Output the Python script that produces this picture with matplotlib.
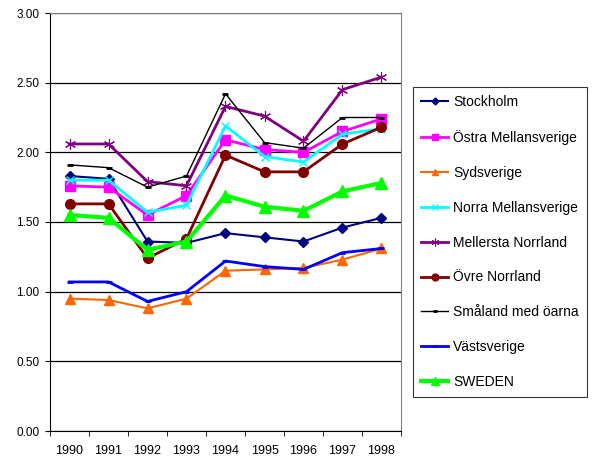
import matplotlib.pyplot as plt
import numpy as np

plt.rcParams['font.family'] = ['Liberation Sans', 'DejaVu Sans']

years = ['1990', '1991', '1992', '1993', '1994', '1995', '1996', '1997', '1998']

stockholm = [1.83, 1.81, 1.36, 1.35, 1.42, 1.39, 1.36, 1.46, 1.53]
ostra = [1.76, 1.75, 1.55, 1.69, 2.09, 2.02, 2.00, 2.15, 2.24]
sydsverige = [0.95, 0.94, 0.88, 0.95, 1.15, 1.16, 1.17, 1.23, 1.31]
norra = [1.80, 1.80, 1.57, 1.62, 2.19, 1.97, 1.93, 2.13, 2.17]
mellersta = [2.06, 2.06, 1.79, 1.76, 2.33, 2.26, 2.08, 2.45, 2.54]
ovre = [1.63, 1.63, 1.24, 1.38, 1.98, 1.86, 1.86, 2.06, 2.18]
smaland = [1.91, 1.89, 1.75, 1.83, 2.42, 2.07, 2.03, 2.25, 2.25]
vastsverige = [1.07, 1.07, 0.93, 1.00, 1.22, 1.18, 1.16, 1.28, 1.31]
sweden = [1.55, 1.53, 1.30, 1.36, 1.69, 1.61, 1.58, 1.72, 1.78]

series = [
    ('Stockholm', stockholm, '#000080', 'D', 5, 1.5),
    ('Östra Mellansverige', ostra, '#FF00FF', 's', 7, 2.0),
    ('Sydsverige', sydsverige, '#FF6600', '^', 7, 1.5),
    ('Norra Mellansverige', norra, '#00FFFF', 'x', 6, 2.0),
    ('Mellersta Norrland', mellersta, '#800080', '*', 0, 2.0),
    ('Övre Norrland', ovre, '#800000', 'o', 7, 2.0),
    ('Småland med öarna', smaland, '#000000', '_', 5, 1.0),
    ('Västsverige', vastsverige, '#0000FF', '_', 5, 2.0),
    ('SWEDEN', sweden, '#00FF00', '^', 8, 3.0),
]

fig = plt.figure(figsize=(5.92, 4.59), dpi=100)
ax = fig.add_axes([50 / 592, 28 / 459, 351 / 592, 418 / 459])
x = np.arange(len(years))

for name, vals, color, marker, ms, lw in series:
    if name == 'Mellersta Norrland':
        # asterisk marker like Excel
        ax.plot(x, vals, color=color, lw=lw, marker=(6, 2, 0), ms=8, mew=0.8, label=name)
    elif marker == 'x':
        ax.plot(x, vals, color=color, lw=lw, marker='x', ms=ms, mew=1.0, label=name)
    elif marker == '_':
        ax.plot(x, vals, color=color, lw=lw, marker='_', ms=ms, mew=2, label=name)
    else:
        ax.plot(x, vals, color=color, lw=lw, marker=marker, ms=ms, mec=color, label=name)

ax.set_xlim(-0.5, len(years) - 0.5)
ax.set_ylim(0, 3)
ax.set_yticks(np.arange(0, 3.01, 0.5))
ax.set_yticklabels([f'{v:.2f}' for v in np.arange(0, 3.01, 0.5)], fontsize=8.5)
ax.yaxis.grid(True, color='black', lw=0.9)
ax.set_axisbelow(True)

ax.set_xticks(x)
ax.set_xticklabels(years, fontsize=9)
ax.tick_params(axis='x', which='major', length=0, pad=10)
ax.set_xticks(np.arange(-0.5, len(years)), minor=True)
ax.tick_params(axis='x', which='minor', length=3.6, direction='out', color='black')
ax.tick_params(axis='y', length=3.6, pad=4, direction='out', color='black')

ax.spines['left'].set_color('black')
ax.spines['bottom'].set_color('black')
ax.spines['top'].set_color('#808080')
ax.spines['right'].set_color('#808080')

leg = ax.legend(loc='upper left', bbox_to_anchor=(413 / 592, 1 - 87 / 459),
                bbox_transform=fig.transFigure, fontsize=10, frameon=True,
                fancybox=False, edgecolor='black', labelspacing=1.5,
                handlelength=1.95, handletextpad=0.35, borderpad=0.6,
                borderaxespad=0, markerscale=0.7)
leg.get_frame().set_linewidth(0.8)

fig.savefig('out.png', dpi=100)
